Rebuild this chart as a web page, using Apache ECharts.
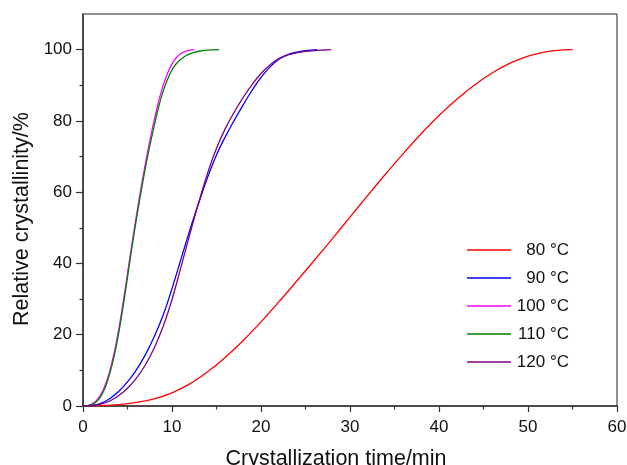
<!DOCTYPE html>
<html>
<head>
<meta charset="utf-8">
<script src="https://cdn.jsdelivr.net/npm/echarts@6/dist/echarts.min.js"></script>
<style>
  html, body { margin: 0; padding: 0; background: #fff; }
  #chart { width: 627px; height: 465px; }
</style>
</head>
<body>
<div id="chart"></div>
<script>
// Isothermal crystallization: relative crystallinity vs. time at five temperatures
const seriesNames = ['80 °C', '90 °C', '100 °C', '110 °C', '120 °C'];
const seriesColors = ['#ff0000', '#0000ff', '#ff00ff', '#008000', '#800080'];

// [time/min, relative crystallinity/%]
const t80 = [[0,0],[2,0.1],[4,0.4],[6,1.0],[8,2.0],[10,3.7],[12,6.2],[14,9.6],[16,13.7],[18,18.4],[20,23.6],[22,29.2],[24,35.0],[26,40.9],[28,46.9],[30,53.0],[32,59.1],[34,65.1],[36,70.9],[38,76.4],[40,81.5],[42,86.1],[44,90.1],[46,93.5],[48,96.2],[50,98.2],[52,99.4],[54,99.95],[55,100]];
const t90 = [[0,0],[1,0.15],[2,0.75],[3,2.05],[4,4.05],[5,6.75],[6,10.15],[7,14.35],[8,19.45],[9,25.45],[10,32.95],[11,41.15],[12,49.35],[13,56.95],[14,64.15],[15,70.45],[16,75.6],[17,80.2],[18,84.5],[19,88.6],[20,92.2],[21,95.1],[22,97.3],[23,98.6],[24,99.3],[25,99.7],[26.3,100]];
const t100 = [[0,0],[0.5,0.12],[1,0.55],[1.5,1.5],[2,3.2],[2.5,5.9],[3,9.8],[3.5,14.9],[4,21.3],[4.5,28.9],[5,37.2],[5.5,45.5],[6,53.4],[6.5,60.9],[7,67.9],[7.5,74.3],[8,80.2],[8.5,85.5],[9,89.9],[9.5,93.4],[10,96.0],[10.5,97.8],[11,98.9],[11.5,99.5],[12,99.85],[12.5,100]];
const t110 = [[0,0],[0.5,0.08],[1,0.4],[1.5,1.2],[2,2.7],[2.5,5.2],[3,9.0],[3.5,14.0],[4,20.3],[4.5,27.8],[5,36.1],[5.5,44.5],[6,52.4],[6.5,59.8],[7,66.7],[7.5,72.9],[8,78.6],[8.5,83.9],[9,88.3],[9.5,91.7],[10,94.3],[10.5,96.1],[11,97.3],[11.5,98.2],[12,98.8],[12.5,99.25],[13,99.55],[14,99.85],[15.3,100]];
const t120 = [[0,0],[1,0.1],[2,0.5],[3,1.4],[4,2.9],[5,5.0],[6,7.8],[7,11.5],[8,16.3],[9,22.3],[10,29.9],[11,38.9],[12,48.2],[13,57.1],[14,65.3],[15,72.3],[16,77.9],[17,82.5],[18,86.6],[19,90.2],[20,93.3],[21,95.7],[22,97.5],[23,98.5],[24,99.1],[25,99.5],[26,99.75],[27,99.9],[27.9,100]];

const seriesData = [t80, t90, t100, t110, t120];

const yMajorTicks = [0, 20, 40, 60, 80, 100];
const yMinorTicks = [10, 30, 50, 70, 90];

const font = "'Liberation Sans', Arial, Helvetica, sans-serif";
const chart = echarts.init(document.getElementById('chart'), null, { renderer: 'canvas' });

chart.setOption({
  animation: false,
  backgroundColor: '#ffffff',
  grid: {
    left: 83, right: 10, top: 14, bottom: 59,
    outerBoundsMode: 'none', containLabel: false,
    show: true, borderColor: '#222', borderWidth: 1, backgroundColor: 'transparent'
  },
  legend: {
    orient: 'vertical',
    left: 467, top: 241.5, padding: 0,
    icon: 'rect',
    itemWidth: 44, itemHeight: 1.5, itemGap: 11,
    data: seriesNames,
    formatter: name => '{t|' + name + '}',
    textStyle: {
      fontFamily: font, fontSize: 17, color: '#111',
      rich: { t: { width: 53, align: 'right', fontSize: 17, fontFamily: font, color: '#111' } }
    }
  },
  xAxis: {
    type: 'value', min: 0, max: 60, interval: 10,
    name: 'Crystallization time/min', nameLocation: 'middle', nameGap: 42,
    nameTextStyle: { fontFamily: font, fontSize: 21.5, color: '#111', padding: [0, 28, 0, 0] },
    axisLine: { lineStyle: { color: '#333', width: 1.5 } },
    axisTick: { inside: false, length: 6, lineStyle: { color: '#333', width: 1.2 } },
    minorTick: { show: true, splitNumber: 2, length: 3.5, lineStyle: { color: '#333', width: 1.2 } },
    axisLabel: { fontFamily: font, fontSize: 17, color: '#111', margin: 13 },
    splitLine: { show: false }
  },
  yAxis: [{
    type: 'value', min: 0, max: 110, interval: 10,
    name: 'Relative crystallinity/%', nameLocation: 'middle', nameGap: 47,
    nameTextStyle: { fontFamily: font, fontSize: 21.5, color: '#111', padding: [0, 18, 0, 0] },
    axisLine: { lineStyle: { color: '#333', width: 1.5 } },
    axisTick: { inside: false, length: 7, customValues: yMajorTicks, lineStyle: { color: '#333', width: 1.2 } },
    axisLabel: { customValues: yMajorTicks, fontFamily: font, fontSize: 17, color: '#111', margin: 11 },
    splitLine: { show: false }
  }, {
    type: 'value', min: 0, max: 110, interval: 10, position: 'left',
    axisLine: { show: false },
    axisTick: { inside: false, length: 3.5, customValues: yMinorTicks, lineStyle: { color: '#333', width: 1.2 } },
    axisLabel: { show: false },
    splitLine: { show: false }
  }],
  series: seriesNames.map((name, i) => ({
    name: name,
    type: 'line',
    data: seriesData[i],
    smooth: 0.4,
    symbol: 'none',
    color: seriesColors[i],
    lineStyle: { color: seriesColors[i], width: 1.3 },
    z: i === 2 ? 1 : 2
  }))
});
</script>
</body>
</html>
